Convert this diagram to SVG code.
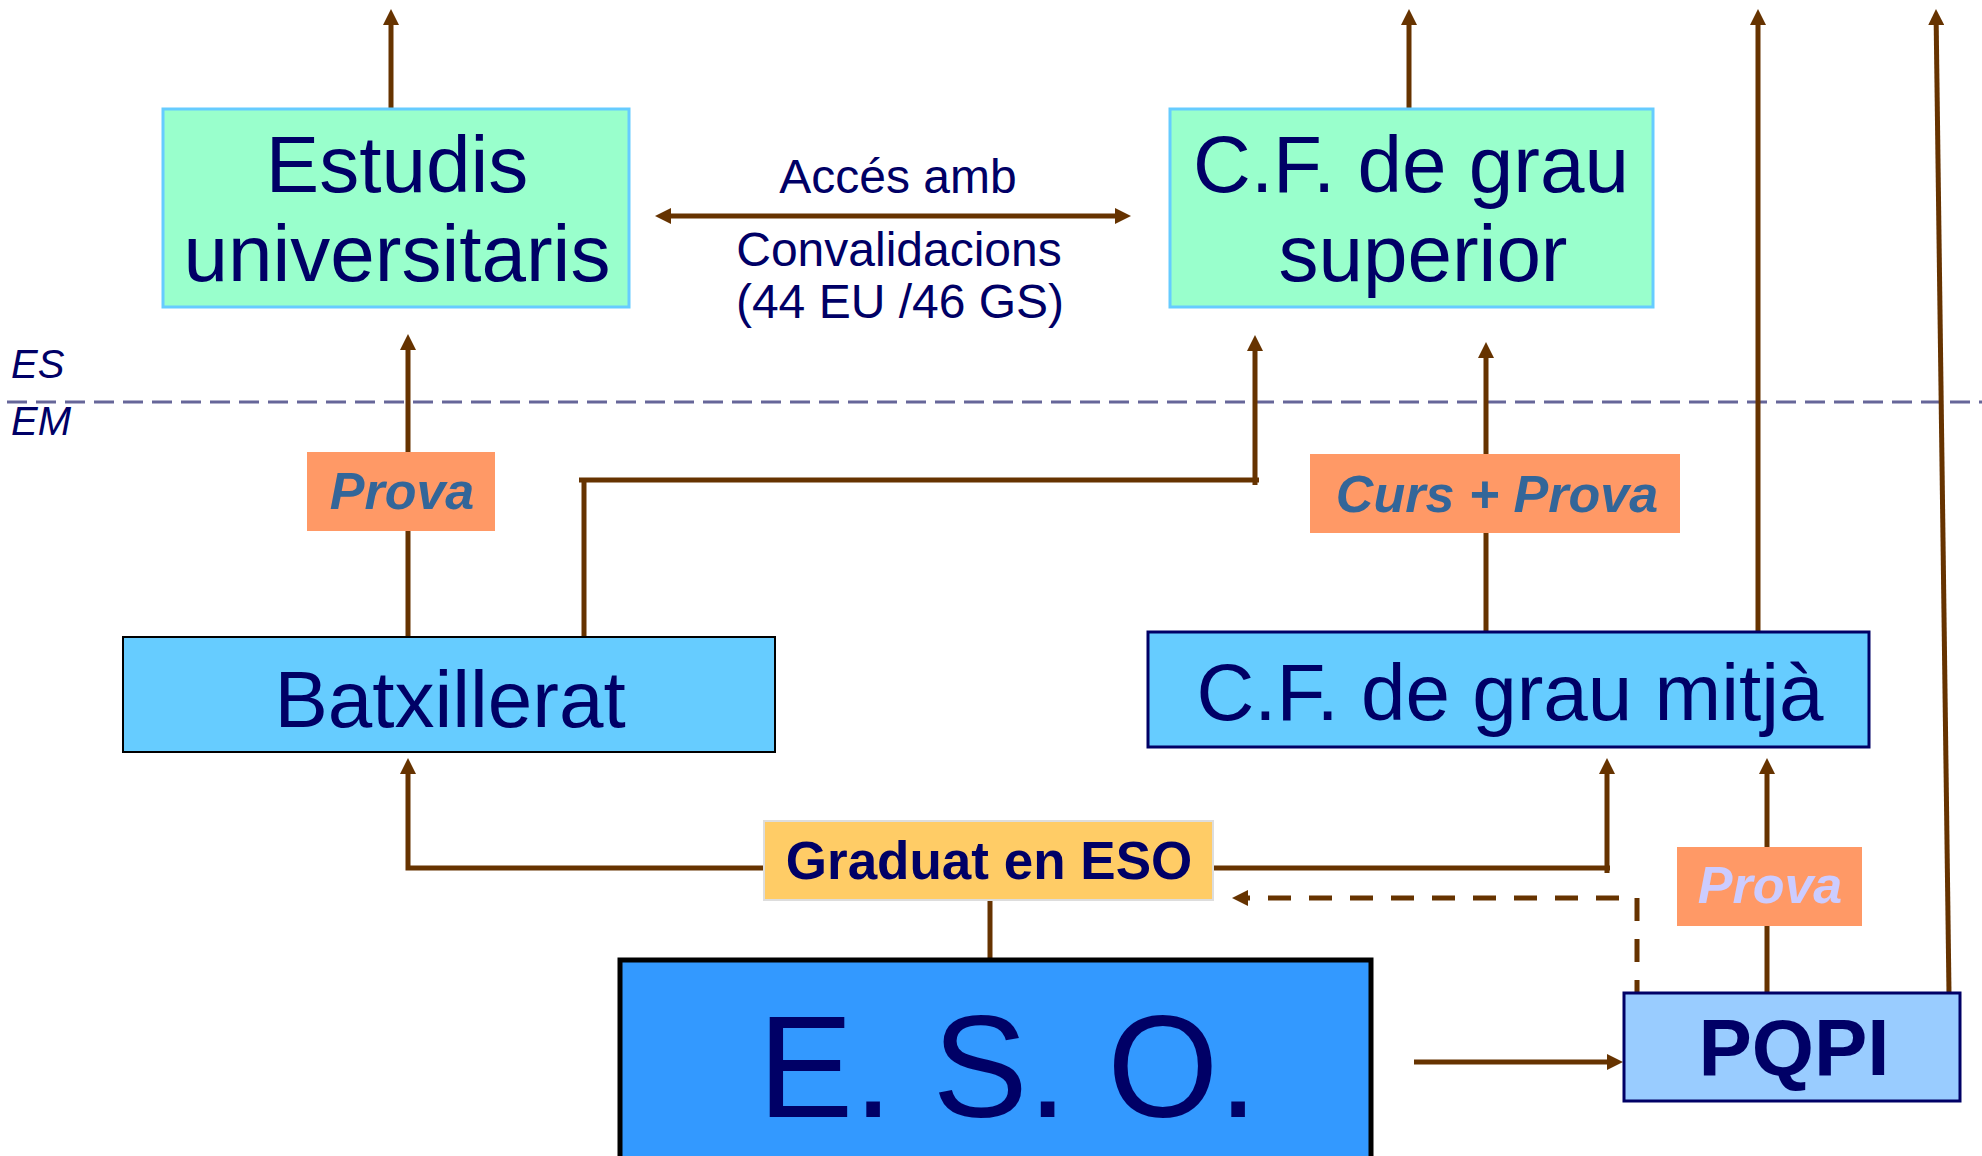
<svg xmlns="http://www.w3.org/2000/svg" width="1982" height="1156" viewBox="0 0 1982 1156">
<style>
text{font-family:"Liberation Sans",Arial,sans-serif;fill:#000066}
.big{font-size:80px;text-anchor:middle}
.lbl{font-size:48px;text-anchor:middle}
.prova{font-size:52px;font-weight:bold;font-style:italic;text-anchor:middle;fill:#336699}
.lvl{font-size:40px;font-style:italic}
.c{fill:none;stroke:#663300;stroke-width:5}
.orange{fill:#FF9966}
.green{fill:#99FFCC;stroke:#66CCFF;stroke-width:3}
.blue{fill:#66CCFF}
</style>
<defs>
<marker id="ah" markerUnits="userSpaceOnUse" markerWidth="16" markerHeight="16" refX="8" refY="8" orient="auto-start-reverse">
<path d="M0,0 L16,8 L0,16 z" fill="#663300"/>
</marker>
</defs>

<line x1="7" y1="402" x2="1982" y2="402" stroke="#666699" stroke-width="3" stroke-dasharray="20 9"/>
<text class="lvl" x="11" y="378">ES</text>
<text class="lvl" x="11" y="435">EM</text>

<g id="connectors">
<line class="c" x1="391" y1="109" x2="391" y2="17" marker-end="url(#ah)"/>
<line class="c" x1="1409" y1="109" x2="1409" y2="17" marker-end="url(#ah)"/>
<line class="c" x1="408" y1="642" x2="408" y2="342" marker-end="url(#ah)"/>
<path class="c" d="M584,637 V480 M579,480 H1259 M1255,485 V343" marker-end="url(#ah)"/>
<line class="c" x1="1486" y1="632" x2="1486" y2="350" marker-end="url(#ah)"/>
<line class="c" x1="1758" y1="632" x2="1758" y2="17" marker-end="url(#ah)"/>
<line class="c" x1="1949" y1="993" x2="1936.1" y2="17" marker-end="url(#ah)"/>
<line class="c" x1="663" y1="216" x2="1123" y2="216" marker-start="url(#ah)" marker-end="url(#ah)"/>
<path class="c" d="M765,868 H408 V766" marker-end="url(#ah)"/>
<path class="c" d="M1213,868 H1610 M1607,873 V766" marker-end="url(#ah)"/>
<line class="c" x1="990" y1="900" x2="990" y2="961"/>
<line class="c" x1="1414" y1="1062" x2="1615" y2="1062" marker-end="url(#ah)"/>
<line class="c" x1="1767" y1="993" x2="1767" y2="766" marker-end="url(#ah)"/>
<path class="c" d="M1637,1003 V898 H1240" stroke-width="6" stroke-dasharray="23 18" marker-end="url(#ah)"/>
</g>

<g id="estudis">
<rect class="green" x="163" y="109" width="466" height="198"/>
<text class="big" x="397" y="192">Estudis</text>
<text class="big" x="397" y="281">universitaris</text>
</g>

<g id="cf-superior">
<rect class="green" x="1170" y="109" width="483" height="198"/>
<text class="big" x="1411" y="192">C.F. de grau</text>
<text class="big" x="1423" y="281">superior</text>
</g>

<g id="convalidacions">
<text class="lbl" x="898" y="193">Accés amb</text>
<text class="lbl" x="899" y="266">Convalidacions</text>
<text class="lbl" x="900" y="318">(44 EU /46 GS)</text>
</g>

<g id="prova-batx">
<rect class="orange" x="307" y="452" width="188" height="79"/>
<text class="prova" x="402" y="509">Prova</text>
</g>

<g id="curs-prova">
<rect class="orange" x="1310" y="454" width="370" height="79"/>
<text class="prova" x="1497" y="512">Curs + Prova</text>
</g>

<g id="batxillerat">
<rect class="blue" x="123" y="637" width="652" height="115" stroke="#000000" stroke-width="2"/>
<text class="big" x="450" y="727">Batxillerat</text>
</g>

<g id="cf-mitja">
<rect class="blue" x="1148" y="632" width="721" height="115" stroke="#000066" stroke-width="3"/>
<text class="big" x="1510" y="720">C.F. de grau mitjà</text>
</g>

<g id="graduat">
<rect x="764" y="821" width="449" height="79" fill="#FFCC66" stroke="#DDDDDD" stroke-width="2"/>
<text x="989" y="879" font-size="53" font-weight="bold" text-anchor="middle">Graduat en ESO</text>
</g>

<g id="prova-pqpi">
<rect class="orange" x="1677" y="847" width="185" height="79"/>
<text class="prova" x="1770" y="903" style="fill:#CCCCFF">Prova</text>
</g>

<g id="eso">
<rect x="620" y="960" width="751" height="230" fill="#3399FF" stroke="#000000" stroke-width="5"/>
<text x="758" y="1117" font-size="144" textLength="500" lengthAdjust="spacingAndGlyphs">E. S. O.</text>
</g>

<g id="pqpi">
<rect x="1624" y="993" width="336" height="108" fill="#99CCFF" stroke="#000066" stroke-width="3"/>
<text x="1794" y="1075" font-size="80" font-weight="bold" text-anchor="middle">PQPI</text>
</g>
</svg>
